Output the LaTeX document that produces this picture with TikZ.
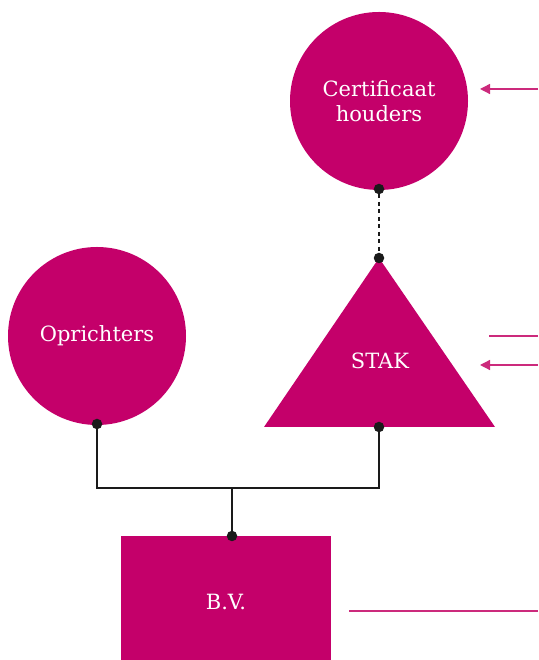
\documentclass[tikz,border=0pt]{standalone}
\usepackage{fontspec}
\setmainfont{DejaVu Serif}
\usetikzlibrary{arrows.meta}
\definecolor{mag}{HTML}{C4006A}
\definecolor{magline}{HTML}{CC2A7C}
\definecolor{dotc}{HTML}{1A1A1A}
\begin{document}
\begin{tikzpicture}[x=1pt,y=1pt,
  blob/.style={circle,fill=mag,minimum size=178pt,inner sep=0pt,text=white,font=\fontsize{21}{25}\selectfont,align=center},
  lbl/.style={text=white,font=\fontsize{21}{25}\selectfont},
  conn/.style={line width=1.3pt,draw=dotc},
  pinline/.style={line width=1.3pt,draw=magline},
  pinarrow/.style={pinline,-{Triangle[length=10pt,width=10pt]}},
  dotnode/.style={circle,fill=dotc,inner sep=0pt,minimum size=10.5pt}]
\useasboundingbox (0,0) rectangle (538,660);
% shapes
\node[blob] (cert) at (379,559) {Certificaat\\houders};
\node[blob] (opr) at (97,324) {Oprichters};
\fill[mag] (379,402) -- (495,233) -- (264,233) -- cycle;
\node[lbl] (stak) at (380,299) {STAK};
\fill[mag] (121,0) rectangle (331,124);
\node[lbl] (bv) at (226,58) {B.V.};
% anchor points
\node[dotnode] (d1) at (379,471) {};
\node[dotnode] (d2) at (379,402) {};
\node[dotnode] (d3) at (97,236) {};
\node[dotnode] (d4) at (379,233) {};
\node[dotnode] (d5) at (232,124) {};
\coordinate (j) at (232,172);
% connectors
\draw[conn,dashed,dash pattern=on 4pt off 3.5pt] (d1) -- (d2);
\draw[conn] (d3.center) |- (j) -| (d4.center);
\draw[conn] (j) -- (d5.center);
% right side lines
\coordinate (r1) at (538,571);
\coordinate (r1e) at (480,571);
\coordinate (r2) at (538,324);
\coordinate (r2e) at (489,324);
\coordinate (r3) at (538,295);
\coordinate (r3e) at (480,295);
\coordinate (r4) at (538,49);
\coordinate (r4e) at (349,49);
\draw[pinarrow] (r1) -- (r1e);
\draw[pinline] (r2) -- (r2e);
\draw[pinarrow] (r3) -- (r3e);
\draw[pinline] (r4) -- (r4e);
\end{tikzpicture}
\end{document}
